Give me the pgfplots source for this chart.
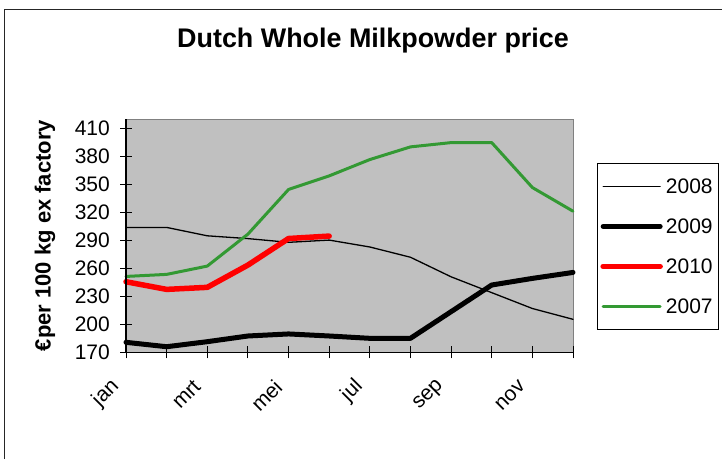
\documentclass[border=0pt]{standalone}
\usepackage{fontspec}
\setmainfont{Liberation Sans}
\usepackage{pgfplots}
\pgfplotsset{compat=1.18}
\definecolor{plotbg}{HTML}{C0C0C0}
\definecolor{frame}{HTML}{808080}
\definecolor{xlgreen}{HTML}{339933}
\begin{document}
\begin{tikzpicture}
\useasboundingbox (0pt,0pt) rectangle (722pt,459pt);
\draw[line width=1.3pt, black!85] (4.5pt,0pt) -- (4.5pt,449.7pt) -- (722pt,449.7pt);
\node[font=\fontsize{26.9}{32}\selectfont\bfseries] at (373pt,418.5pt) {Dutch Whole Milkpowder price};
\begin{axis}[
  at={(126pt,106.7pt)}, anchor=south west,
  width=447pt, height=233pt, scale only axis,
  xmin=0, xmax=11, ymin=170, ymax=420,
  clip=false,
  axis background/.style={fill=plotbg, draw=frame, line width=1pt},
  axis line style={draw=none},
  xtick={0,2,...,10},
  xticklabels={jan,mrt,mei,jul,sep,nov},
  minor xtick={1,3,...,11},
  ytick={170,200,...,410},
  xtick pos=bottom, ytick pos=left,
  tick align=center,
  major tick length=12pt, minor tick length=12pt,
  tick style={black, line width=1pt},
  /pgf/number format/assume math mode=true,
  ticklabel style={font=\fontsize{21}{25}\selectfont},
  yticklabel style={inner sep=0pt, xshift=-10pt},
  xticklabel style={inner sep=0pt, xshift=-10pt, yshift=-25pt, rotate=45, anchor=east},
  ylabel={€per 100 kg ex factory},
  ylabel style={font=\fontsize{22}{26}\selectfont\bfseries, at={(axis description cs:-0.1812,0.501)}, anchor=center, rotate=0},
  legend style={at={(axis description cs:1.0537,0.8124)}, anchor=north west,
    draw=black, fill=white, line width=0.8pt, inner sep=3pt, row sep=0pt,
    font=\fontsize{21}{25}\selectfont,
    nodes={inner xsep=3pt, inner ysep=0pt, minimum height=40pt}},
  legend cell align=left,
  legend image code/.code={\draw[#1] (0pt,0pt) -- (57pt,0pt);},
  every axis plot/.append style={line cap=round, line join=round},
]
\addplot[black, line width=1.3pt] coordinates {(0,304) (1,304) (2,295) (3,292) (4,288) (5,290.4) (6,283) (7,272) (8,251) (9,234) (10,217) (11,205.4)};
\addlegendentry{2008}
\addplot[black, line width=5pt] coordinates {(0,180.7) (1,176) (2,181.4) (3,187.5) (4,189.7) (5,187.5) (6,185) (7,185) (8,213.6) (9,242.2) (10,249.3) (11,255.7)};
\addlegendentry{2009}
\addplot[red, line width=5.5pt] coordinates {(0,245.7) (1,237.5) (2,239.7) (3,263.6) (4,292.1) (5,294.7)};
\addlegendentry{2010}
\addplot[xlgreen, line width=3pt] coordinates {(0,251.4) (1,253.6) (2,262.5) (3,296.8) (4,344.7) (5,359.3) (6,376.8) (7,390.4) (8,395) (9,395) (10,346.8) (11,321.4)};
\addlegendentry{2007}
\draw[black, line width=1.3pt] (rel axis cs:0,1) -- (rel axis cs:0,0) -- (rel axis cs:1,0);
\end{axis}
\end{tikzpicture}
\end{document}
